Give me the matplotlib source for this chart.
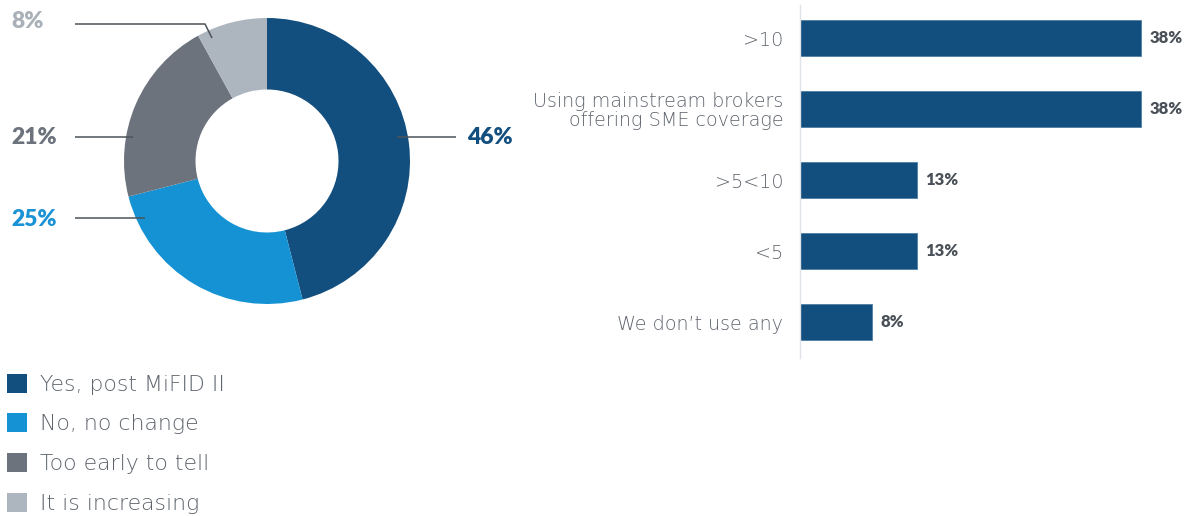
import matplotlib
matplotlib.use("Agg")
import matplotlib.pyplot as plt
from matplotlib.patches import Patch

# ---- data ----
donut_labels = ["Yes, post MiFID II", "No, no change", "Too early to tell", "It is increasing"]
donut_values = [46, 25, 21, 8]
donut_colors = ["#134f7e", "#1592d4", "#6c737c", "#adb5bf"]

bar_categories = [">10", "Using mainstream brokers\noffering SME coverage", ">5<10", "<5", "We don\u2019t use any"]
bar_values = [38, 38, 13, 13, 8]
bar_color = "#134f7e"

BOLD = "Lato"
LIGHT = "DejaVu Sans"
TXT = "#5f656d"
VAL = "#4a5058"

W, H = 1187, 516
fig = plt.figure(figsize=(W / 100, H / 100), dpi=100)

def fr(x0, y0, w, h):
    return [x0 / W, (H - y0 - h) / H, w / W, h / H]

# ---- donut ----
cx, cy, R = 267, 161, 143
ax1 = fig.add_axes(fr(cx - R, cy - R, 2 * R, 2 * R))
ax1.pie(donut_values, colors=donut_colors, startangle=90, counterclock=False,
        radius=1, wedgeprops=dict(width=0.5, linewidth=0))
ax1.set_xlim(-1, 1)
ax1.set_ylim(-1, 1)
ax1.set_aspect("equal")
ax1.axis("off")

def px(x, y):
    return ((x - cx) / R, (cy - y) / R)

lab_pos = [(467, 138), (11, 219), (11, 138), (11, 22)]
lines = [[(397, 137), (456, 137)],
         [(75, 218), (145, 218)],
         [(75, 137), (133, 137)],
         [(75, 24), (205, 24), (212, 38)]]
lab_colors = ["#134f7e", "#1a93d6", "#6c737c", "#a9b0b8"]
for v, (lx, ly), ln, c in zip(donut_values, lab_pos, lines, lab_colors):
    tx, ty = px(lx, ly)
    ax1.text(tx, ty, f"{v}%", color=c, fontsize=16.5, fontweight="heavy",
             family=BOLD, ha="left", va="center", clip_on=False)
    xs = [px(a, b)[0] for a, b in ln]
    ys = [px(a, b)[1] for a, b in ln]
    ax1.plot(xs, ys, color="#4d5359", lw=1.1, clip_on=False, solid_capstyle="butt")

# ---- legend ----
handles = [Patch(facecolor=c, edgecolor="none") for c in donut_colors]
leg = fig.legend(handles, donut_labels, loc="upper left",
                 bbox_to_anchor=(0.0, (H - 367) / H), frameon=False,
                 prop=dict(family=LIGHT, size=15.8, weight="light"),
                 handlelength=0.95, handleheight=0.95, handletextpad=0.55,
                 labelspacing=0.86, borderaxespad=0, borderpad=0.3)
for t in leg.get_texts():
    t.set_color(TXT)

# ---- bars ----
ax2 = fig.add_axes(fr(800, 5, W - 800, 353))
y = list(range(len(bar_categories)))
ax2.barh(y, bar_values, height=0.52, color=bar_color, edgecolor="#4f7ea3", linewidth=0.6)
ax2.set_xlim(0, (W - 800) / 8.97)
ax2.set_ylim(4.507, -0.465)
ax2.set_yticks(y)
ax2.set_yticklabels(bar_categories, family=LIGHT, fontsize=13.8, weight="light",
                    color=TXT, ha="right", linespacing=1.0)
ax2.tick_params(axis="y", length=0, pad=12)
ax2.set_xticks([])
for s in ["top", "right", "bottom"]:
    ax2.spines[s].set_visible(False)
ax2.spines["left"].set_color("#dfe3e7")
ax2.spines["left"].set_linewidth(1.0)
for yi, v in zip(y, bar_values):
    ax2.text(v + 1.0, yi, f"{v}%", color=VAL, fontsize=12, fontweight="heavy",
             family=BOLD, va="center", ha="left")

fig.savefig("out.png", dpi=100)
